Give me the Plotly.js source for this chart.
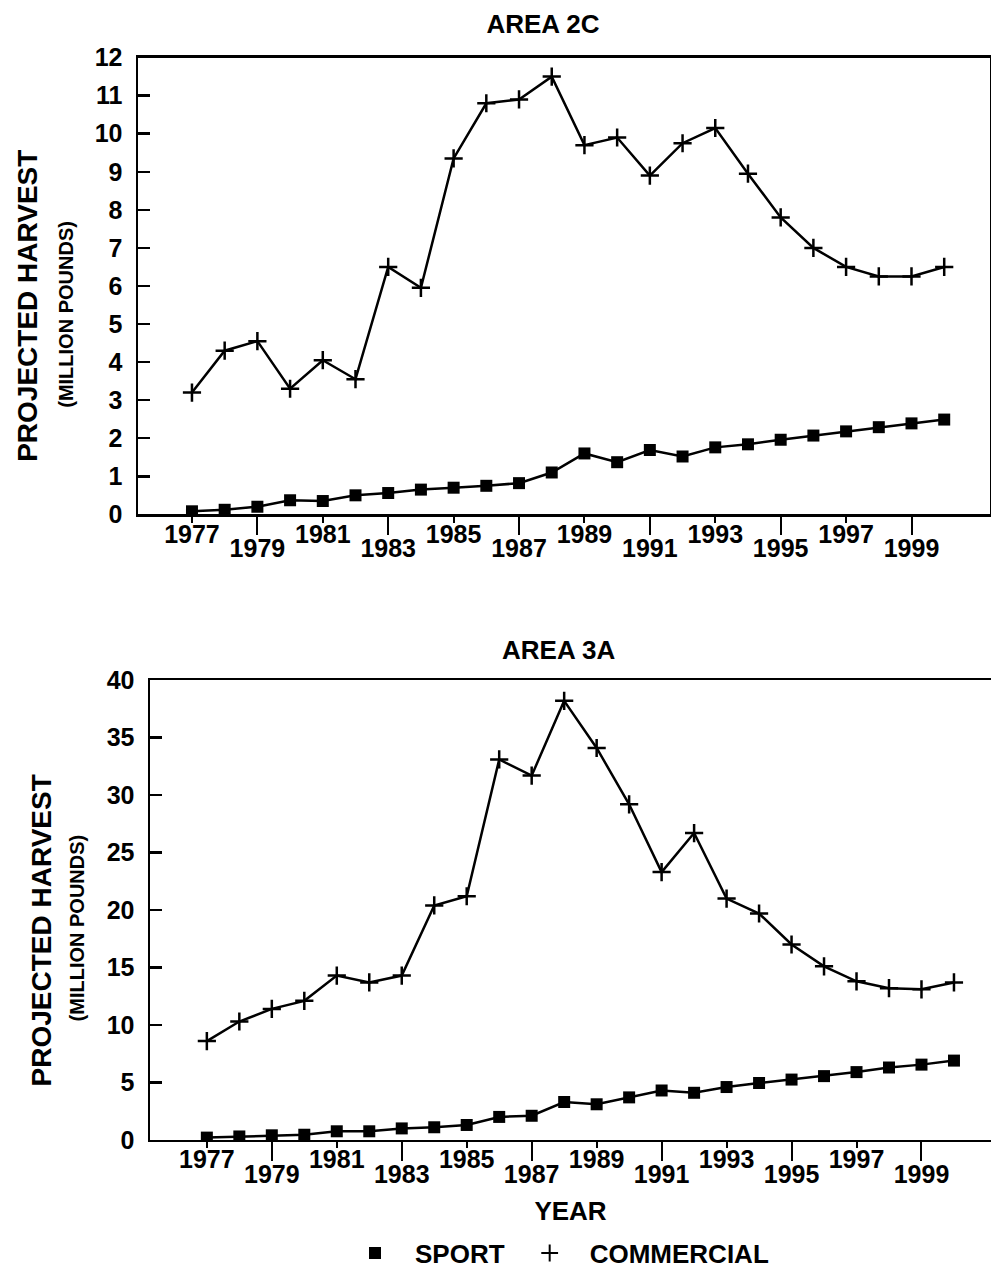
<!DOCTYPE html>
<html>
<head>
<meta charset="utf-8">
<script src="https://cdn.plot.ly/plotly-3.0.1.min.js"></script>
<style>html,body{margin:0;padding:0;background:#fff;}#chart{width:991px;height:1277px;}</style>
</head>
<body>
<div id="chart"></div>
<script>
// ---- data (million pounds) ----
const years = [1977,1978,1979,1980,1981,1982,1983,1984,1985,1986,1987,1988,1989,1990,1991,1992,1993,1994,1995,1996,1997,1998,1999,2000];

const sport2C      = [0.08,0.12,0.2,0.37,0.35,0.5,0.56,0.65,0.7,0.75,0.82,1.1,1.6,1.37,1.69,1.52,1.76,1.84,1.96,2.07,2.18,2.29,2.39,2.49];
const commercial2C = [3.2,4.3,4.55,3.3,4.05,3.55,6.5,5.95,9.35,10.8,10.9,11.5,9.7,9.9,8.9,9.75,10.15,8.95,7.8,7.0,6.5,6.25,6.25,6.5];

const sport3A      = [0.2,0.3,0.4,0.45,0.75,0.75,1.0,1.1,1.3,2.0,2.1,3.3,3.1,3.7,4.3,4.1,4.6,4.95,5.25,5.55,5.9,6.3,6.55,6.9];
const commercial3A = [8.6,10.3,11.4,12.1,14.3,13.7,14.3,20.4,21.2,33.1,31.7,38.2,34.1,29.2,23.3,26.7,21.0,19.7,17.0,15.1,13.8,13.2,13.1,13.7];

const upperTickYears = [1977,1981,1985,1989,1993,1997];
const lowerTickYears = [1979,1983,1987,1991,1995,1999];
const yTicks2C = [0,1,2,3,4,5,6,7,8,9,10,11,12];
const yTicks3A = [0,5,10,15,20,25,30,35,40];

const seriesNames = ['SPORT','COMMERCIAL'];
const titles = ['AREA 2C','AREA 3A'];
const yTitleMain = 'PROJECTED HARVEST';
const yTitleSub = '(MILLION POUNDS)';
const xTitle = 'YEAR';

// ---- styles ----
const FONT = 'Liberation Sans, Arial, Helvetica, sans-serif';
const BLACK = '#000';
const W = 991, H = 1277;
const px = v => v / W;
const py = v => 1 - v / H;

const sportStyle = {
  mode: 'lines+markers',
  line: {color: BLACK, width: 2.5},
  marker: {symbol: 'square', size: 12, color: BLACK}
};
const commStyle = {
  mode: 'lines+markers',
  line: {color: BLACK, width: 2.5},
  marker: {symbol: 'cross-thin', size: 13, color: BLACK, line: {color: BLACK, width: 2.5}}
};

const traces = [
  Object.assign({x: years, y: sport2C, xaxis: 'x', yaxis: 'y', name: seriesNames[0], showlegend: false}, sportStyle),
  Object.assign({x: years, y: commercial2C, xaxis: 'x', yaxis: 'y', name: seriesNames[1], showlegend: false}, commStyle),
  Object.assign({x: years, y: sport3A, xaxis: 'x2', yaxis: 'y2', name: seriesNames[0], showlegend: false}, sportStyle),
  Object.assign({x: years, y: commercial3A, xaxis: 'x2', yaxis: 'y2', name: seriesNames[1], showlegend: false}, commStyle),
  // empty traces so the overlaid (staggered-label) axes are drawn
  {x: [null], y: [null], xaxis: 'x3', yaxis: 'y', mode: 'markers', showlegend: false, hoverinfo: 'skip'},
  {x: [null], y: [null], xaxis: 'x4', yaxis: 'y2', mode: 'markers', showlegend: false, hoverinfo: 'skip'},
  // legend-only entries (symbol without line, as in the original key)
  {x: [null], y: [null], xaxis: 'x2', yaxis: 'y2', mode: 'markers', name: seriesNames[0], showlegend: true,
   marker: {symbol: 'square', size: 11, color: BLACK}},
  {x: [null], y: [null], xaxis: 'x2', yaxis: 'y2', mode: 'markers', name: seriesNames[1], showlegend: true,
   marker: {symbol: 'cross-thin', size: 11, color: BLACK, line: {color: BLACK, width: 2}}}
];

const tickFont = {family: FONT, size: 25, color: BLACK, weight: 'bold'};

function xBase(range, domain, vals, len, anchor, standoff) {
  return {
    range: range, domain: domain, anchor: anchor,
    tickmode: 'array', tickvals: vals, ticktext: vals.map(String),
    ticks: 'outside', ticklen: len, tickwidth: 2, tickcolor: BLACK,
    ticklabelstandoff: standoff,
    showline: true, linecolor: BLACK, linewidth: 2.5, mirror: true,
    showgrid: false, zeroline: false, tickfont: tickFont
  };
}
function yBase(range, domain, vals, anchor) {
  return {
    range: range, domain: domain, anchor: anchor,
    tickmode: 'array', tickvals: vals, ticktext: vals.map(String),
    ticks: 'inside', ticklen: 12, tickwidth: 2.5, tickcolor: BLACK,
    ticklabelstandoff: 8,
    showline: true, linecolor: BLACK, linewidth: 2.5, mirror: true,
    showgrid: false, zeroline: false, tickfont: tickFont
  };
}

const xr1 = [1975.35, 2001.4];
const xr2 = [1975.25, 2001.14];
const xd1 = [px(138), px(990)];
const xd2 = [px(150), 1];

function yTitleAnn(text, size, x, y) {
  return {text: text, xref: 'paper', yref: 'paper', x: px(x), y: py(y), xanchor: 'center', yanchor: 'middle',
          textangle: -90, showarrow: false, font: {family: FONT, size: size, color: BLACK, weight: 'bold'}};
}

const layout = {
  width: W, height: H,
  margin: {l: 0, r: 0, t: 0, b: 0},
  paper_bgcolor: '#fff', plot_bgcolor: '#fff',
  font: {family: FONT, color: BLACK},
  title: {
    text: titles[0], x: px(543), xanchor: 'center', y: py(24), yanchor: 'middle',
    font: {family: FONT, size: 26, color: BLACK, weight: 'bold'}
  },
  xaxis: xBase(xr1, xd1, upperTickYears, 6, 'y', -10),
  xaxis3: Object.assign(xBase(xr1, xd1, lowerTickYears, 20, 'y', -8), {overlaying: 'x', mirror: false, showline: false}),
  yaxis: yBase([0, 12], [py(518), py(58)], yTicks2C, 'x'),
  xaxis2: xBase(xr2, xd2, upperTickYears, 6, 'y2', -10),
  xaxis4: Object.assign(xBase(xr2, xd2, lowerTickYears, 20, 'y2', -8), {
    overlaying: 'x2', mirror: false, showline: false,
    title: {text: xTitle, font: {family: FONT, size: 26, color: BLACK, weight: 'bold'}, standoff: 14}
  }),
  yaxis2: yBase([0, 40], [py(1148), py(685)], yTicks3A, 'x2'),
  annotations: [
    {text: titles[1], xref: 'paper', yref: 'paper', x: px(558), y: py(655), xanchor: 'center', yanchor: 'middle',
     showarrow: false, font: {family: FONT, size: 26, color: BLACK, weight: 'bold'}},
    yTitleAnn(yTitleMain, 28, 28, 308),
    yTitleAnn(yTitleSub, 20, 66, 317),
    yTitleAnn(yTitleMain, 28, 41, 937),
    yTitleAnn(yTitleSub, 20, 77, 935)
  ],
  showlegend: true,
  legend: {
    orientation: 'h', x: px(335), xanchor: 'left', y: py(1262), yanchor: 'middle',
    font: {family: FONT, size: 26, color: BLACK, weight: 'bold'},
    bgcolor: 'rgba(0,0,0,0)', itemsizing: 'constant', itemwidth: 70
  }
};

Plotly.newPlot('chart', traces, layout, {displayModeBar: false, staticPlot: true});
</script>
</body>
</html>
